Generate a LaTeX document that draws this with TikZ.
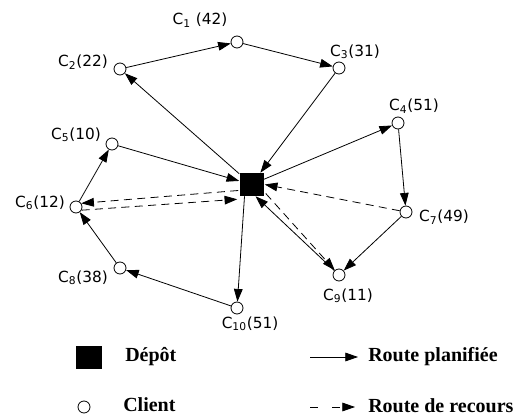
\documentclass[tikz,border=0pt]{standalone}
\usepackage{fontspec}
\setmainfont{DejaVu Sans}
\newfontfamily\legfont{Liberation Serif}
\usetikzlibrary{arrows.meta,calc}
\begin{document}
\begin{tikzpicture}[x=0.75pt,y=-0.75pt,
  client/.style={circle,draw,line width=0.6pt,minimum size=9pt,inner sep=0pt,fill=white},
  depot/.style={rectangle,fill=black,minimum width=18pt,minimum height=17.25pt,inner sep=0pt},
  lbl/.style={font=\fontsize{11.5}{13}\selectfont,inner sep=0pt},
  leg/.style={font=\legfont\bfseries\fontsize{15}{17}\selectfont,inner sep=0pt,anchor=west},
  route/.style={line width=0.6pt,-{Triangle[length=9.5pt,width=6.5pt]}},
  recours/.style={route,dash pattern=on 6pt off 4pt},
  legrecours/.style={route,dash pattern=on 6pt off 10.5pt}]
\useasboundingbox (0,0) rectangle (520,416);
% nodes
\node[depot] (dep) at (251.5,184.5) {};
\node[client] (c1) at (237,42) {};
\node[client] (c2) at (120,69) {};
\node[client] (c3) at (339,68) {};
\node[client] (c4) at (398,123) {};
\node[client] (c5) at (112,144) {};
\node[client] (c6) at (76,207) {};
\node[client] (c7) at (406,212) {};
\node[client] (c8) at (120,268) {};
\node[client] (c9) at (339,275) {};
\node[client] (c10) at (237,308) {};
% labels
\node[lbl] (l1) at (200,20) {C\textsubscript{1} (42)};
\node[lbl] (l2) at (83,62) {C\textsubscript{2}(22)};
\node[lbl] (l3) at (355,52) {C\textsubscript{3}(31)};
\node[lbl] (l4) at (414,106) {C\textsubscript{4}(51)};
\node[lbl] (l5) at (76,135) {C\textsubscript{5}(10)};
\node[lbl] (l6) at (40,203) {C\textsubscript{6}(12)};
\node[lbl] (l7) at (444,217) {C\textsubscript{7}(49)};
\node[lbl] (l8) at (83,278) {C\textsubscript{8}(38)};
\node[lbl] (l9) at (348,296) {C\textsubscript{9}(11)};
\node[lbl] (l10) at (250,324) {C\textsubscript{10}(51)};
% planned routes
\draw[route] (c2) -- (c1);
\draw[route] (c1) -- (c3);
\draw[route] (c3) -- (dep);
\draw[route] (dep) -- (c2);
\draw[route] (dep) -- (c4);
\draw[route] (c4) -- (c7);
\draw[route] (c7) -- (c9);
\draw[route] (c9) -- ($(dep.south)+(4,0)$);
\draw[route] (c5) -- (dep);
\draw[route] (c6) -- (c5);
\draw[route] (c8) -- (c6);
\draw[route] (c10) -- (c8);
\draw[route] ($(dep.south)+(-7,0)$) -- (c10);
% recourse routes
\draw[recours] ($(dep.west)+(-1,6)$) -- (c6.35);
\draw[recours] (c6.-30) -- ($(dep.south west)+(-2,3)$);
\draw[recours] (c7) -- ($(dep.east)+(1,0)$);
\draw[recours] ($(dep.east)+(2,9)$) -- (c9);
% legend
\node[depot,minimum width=19.5pt] (ldep) at (89,357.5) {};
\node[leg] (tdep) at (125,357) {Dépôt};
\node[client] (lcli) at (84,407) {};
\node[leg] (tcli) at (123,405) {Client};
\coordinate (a1) at (310,357);
\coordinate (b1) at (358,357);
\draw[route] (a1) -- (b1);
\node[leg] (tplan) at (368,357) {Route planifiée};
\coordinate (a2) at (310,407);
\coordinate (b2) at (355,407);
\draw[legrecours] (a2) -- (b2);
\node[leg] (trec) at (368,406) {Route de recours};
\end{tikzpicture}
\end{document}
